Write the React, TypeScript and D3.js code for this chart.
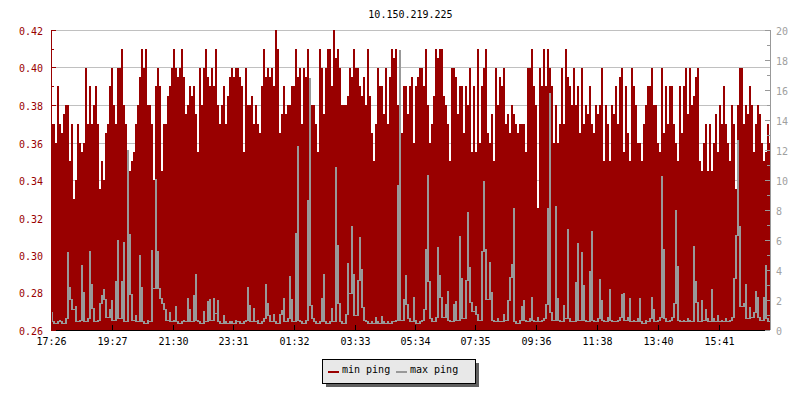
import * as d3 from "d3";

// chart data (one sample every 4 minutes)
const title = "10.150.219.225";
const seriesNames = ["min ping", "max ping"];
const seriesColors = ["#990000", "#999999"];
const startTime = "17:26";
const stepMinutes = 4;
const spanMinutes = 1438;

const timeLabels = ["17:26", "19:27", "21:30", "23:31", "01:32", "03:33", "05:34", "07:35", "09:36", "11:38", "13:40", "15:41"];
const leftTicks = [0.26, 0.28, 0.3, 0.32, 0.34, 0.36, 0.38, 0.4, 0.42];
const rightTicks = [0, 2, 4, 6, 8, 10, 12, 14, 16, 18, 20];

const minPing = [
  0.37, 0.37, 0.36, 0.39, 0.37, 0.365, 0.375, 0.38, 0.38, 0.35, 0.37, 0.33, 0.34, 0.37, 0.36, 0.355, 0.36, 0.4, 0.37, 0.39,
  0.37, 0.38, 0.39, 0.37, 0.335, 0.35, 0.34, 0.365, 0.37, 0.39, 0.4, 0.38, 0.37, 0.4, 0.4, 0.41, 0.38, 0.37, 0.345, 0.345,
  0.35, 0.355, 0.37, 0.38, 0.395, 0.41, 0.4, 0.41, 0.38, 0.38, 0.37, 0.34, 0.39, 0.4, 0.39, 0.345, 0.37, 0.37, 0.385, 0.39,
  0.4, 0.41, 0.4, 0.395, 0.4, 0.41, 0.395, 0.375, 0.38, 0.39, 0.385, 0.39, 0.375, 0.355, 0.4, 0.38, 0.4, 0.41, 0.395, 0.39,
  0.4, 0.39, 0.41, 0.38, 0.37, 0.38, 0.39, 0.37, 0.385, 0.395, 0.4, 0.395, 0.4, 0.4, 0.395, 0.39, 0.355, 0.4, 0.38, 0.38,
  0.385, 0.37, 0.38, 0.37, 0.365, 0.39, 0.41, 0.395, 0.4, 0.395, 0.4, 0.39, 0.42, 0.41, 0.365, 0.375, 0.39, 0.375, 0.38, 0.38,
  0.39, 0.39, 0.41, 0.395, 0.4, 0.37, 0.4, 0.395, 0.41, 0.38, 0.38, 0.38, 0.37, 0.355, 0.41, 0.4, 0.375, 0.4, 0.41, 0.41,
  0.39, 0.42, 0.405, 0.41, 0.4, 0.38, 0.38, 0.38, 0.385, 0.4, 0.395, 0.41, 0.4, 0.4, 0.39, 0.385, 0.395, 0.38, 0.41, 0.385,
  0.365, 0.35, 0.37, 0.4, 0.39, 0.39, 0.375, 0.4, 0.37, 0.395, 0.41, 0.405, 0.41, 0.38, 0.37, 0.365, 0.39, 0.39, 0.375, 0.39,
  0.395, 0.36, 0.39, 0.395, 0.4, 0.4, 0.39, 0.41, 0.38, 0.36, 0.37, 0.385, 0.41, 0.405, 0.41, 0.41, 0.385, 0.38, 0.37, 0.35,
  0.4, 0.4, 0.395, 0.375, 0.39, 0.39, 0.365, 0.39, 0.38, 0.4, 0.355, 0.39, 0.355, 0.41, 0.36, 0.39, 0.4, 0.41, 0.365, 0.36,
  0.375, 0.35, 0.4, 0.38, 0.395, 0.39, 0.4, 0.37, 0.375, 0.365, 0.38, 0.375, 0.37, 0.365, 0.37, 0.37, 0.37, 0.355, 0.4, 0.4,
  0.41, 0.39, 0.38, 0.325, 0.4, 0.39, 0.41, 0.39, 0.41, 0.4, 0.39, 0.36, 0.38, 0.36, 0.37, 0.4, 0.37, 0.41, 0.395, 0.39,
  0.38, 0.4, 0.38, 0.39, 0.365, 0.4, 0.37, 0.38, 0.375, 0.39, 0.37, 0.365, 0.38, 0.375, 0.38, 0.4, 0.35, 0.38, 0.37, 0.35,
  0.38, 0.375, 0.39, 0.37, 0.395, 0.4, 0.355, 0.39, 0.365, 0.35, 0.4, 0.39, 0.38, 0.36, 0.36, 0.35, 0.37, 0.38, 0.39, 0.39,
  0.4, 0.38, 0.38, 0.36, 0.355, 0.4, 0.365, 0.39, 0.37, 0.39, 0.39, 0.37, 0.36, 0.35, 0.39, 0.365, 0.39, 0.4, 0.375, 0.4,
  0.38, 0.385, 0.395, 0.4, 0.35, 0.345, 0.36, 0.37, 0.345, 0.37, 0.345, 0.36, 0.375, 0.355, 0.38, 0.37, 0.39, 0.37, 0.36, 0.35,
  0.38, 0.37, 0.335, 0.38, 0.4, 0.4, 0.37, 0.38, 0.375, 0.39, 0.38, 0.355, 0.37, 0.38, 0.375, 0.36, 0.35, 0.355, 0.37, 0.36,
];

const maxPing = [
  1.18, 0.6, 0.5, 0.6, 0.7, 0.6, 0.5, 0.8, 5.2, 2.87, 2.1, 1.4, 1.6, 0.6, 0.7, 4.33, 2.53, 0.6, 0.8, 5.27,
  3.07, 1.47, 0.6, 0.7, 1.8, 2.33, 2.73, 2.07, 0.9, 1.4, 2.0, 0.7, 3.27, 6.0, 0.8, 3.27, 5.87, 0.6, 12.0, 6.4,
  2.4, 0.7, 1.0, 0.6, 5.0, 2.87, 0.6, 0.5, 0.7, 0.6, 5.33, 2.8, 10.07, 5.27, 2.8, 2.13, 1.8, 1.4, 0.7, 1.2,
  0.6, 0.7, 1.6, 0.6, 0.5, 0.6, 0.7, 0.6, 2.13, 1.4, 0.6, 2.33, 3.73, 0.7, 0.6, 0.5, 1.27, 0.6, 1.93, 2.1,
  0.7, 2.13, 1.1, 2.0, 0.6, 0.5, 1.0, 0.6, 0.5, 0.6, 0.6, 0.5, 0.7, 0.6, 0.6, 0.5, 0.6, 0.7, 2.87, 1.67,
  0.6, 1.47, 0.6, 0.7, 0.5, 0.6, 0.8, 3.07, 1.8, 1.0, 0.6, 1.07, 0.6, 0.5, 1.07, 1.33, 2.13, 0.6, 0.8, 3.6,
  2.07, 0.6, 6.47, 12.3, 0.7, 0.6, 0.5, 0.7, 8.67, 16.8, 1.67, 0.8, 0.6, 0.5, 0.6, 2.13, 3.73, 0.6, 0.5, 0.6,
  1.47, 0.6, 10.87, 5.67, 1.8, 0.6, 0.5, 1.07, 4.47, 2.47, 6.93, 3.73, 1.0, 3.33, 6.2, 4.07, 1.53, 0.7, 0.6, 0.5,
  0.6, 0.5, 0.9, 0.6, 0.5, 0.93, 0.6, 0.5, 0.6, 0.5, 0.6, 0.6, 0.7, 9.67, 18.7, 0.7, 2.07, 3.67, 1.73, 0.8,
  0.6, 2.2, 0.7, 0.5, 0.6, 0.7, 1.4, 5.4, 10.33, 3.27, 0.8, 0.6, 0.9, 5.53, 3.67, 2.2, 0.9, 1.73, 2.6, 0.7,
  0.6, 1.73, 1.93, 0.7, 6.27, 3.47, 0.8, 3.33, 7.87, 4.2, 1.87, 1.27, 1.6, 1.07, 0.7, 5.27, 9.93, 5.4, 2.07, 4.53,
  2.53, 0.7, 0.6, 0.8, 0.6, 0.6, 1.07, 0.7, 2.0, 3.53, 4.4, 8.13, 0.6, 0.5, 0.7, 1.6, 2.0, 0.7, 0.6, 0.8,
  2.2, 0.7, 0.6, 0.9, 0.6, 0.7, 0.8, 1.73, 8.13, 15.8, 1.2, 0.7, 8.27, 2.13, 0.7, 0.6, 1.67, 0.8, 6.73, 0.8,
  0.6, 0.6, 3.2, 5.8, 0.7, 5.2, 3.0, 0.7, 0.6, 3.93, 6.6, 0.7, 0.6, 0.8, 3.4, 2.0, 0.7, 0.6, 0.9, 2.73,
  0.7, 0.6, 0.6, 0.7, 0.9, 2.4, 2.47, 0.7, 0.9, 2.13, 0.6, 0.7, 0.6, 0.8, 2.13, 0.6, 0.5, 0.7, 0.6, 0.8,
  2.2, 1.4, 0.6, 0.7, 0.9, 10.27, 5.4, 0.8, 0.6, 0.7, 0.9, 1.8, 8.0, 4.27, 0.7, 0.6, 0.7, 0.6, 0.8, 0.7,
  0.6, 5.6, 3.27, 1.87, 0.6, 2.0, 0.7, 1.4, 0.8, 0.6, 2.73, 0.8, 0.6, 1.0, 0.6, 0.7, 0.6, 0.8, 0.6, 0.7,
  0.9, 3.47, 6.33, 12.7, 6.93, 1.6, 1.8, 3.07, 0.8, 1.53, 0.9, 1.2, 2.6, 2.2, 0.9, 0.7, 2.2, 4.33, 0.8, 0.6,
];

const FONT = "'DejaVu Sans Mono', monospace";

type Pt = { t: Date; v: number; lo: number };

export default function App() {
  const width = 800;
  const height = 400;
  const plot = { left: 51, right: 770, top: 30, bottom: 330 };

  const [sh, sm] = startTime.split(":").map(Number);
  const t0 = new Date(2024, 0, 1, sh, sm);
  const tEnd = d3.timeMinute.offset(t0, spanMinutes);

  const x = d3.scaleTime().domain([t0, tEnd]).range([plot.left, plot.right]);
  const yL = d3.scaleLinear().domain([0.26, 0.42]).range([plot.bottom, plot.top]);
  const yR = d3.scaleLinear().domain([0, 20]).range([plot.bottom, plot.top]);

  // lo = lowest of the sample and its neighbours, so a 1px step line can be drawn with solid verticals
  const toPts = (arr: number[]): Pt[] => {
    const pts = arr.map((v, i) => ({
      t: d3.timeMinute.offset(t0, i * stepMinutes),
      v,
      lo: Math.min(v, arr[i - 1] ?? v, arr[i + 1] ?? v),
    }));
    const last = arr[arr.length - 1];
    pts.push({ t: tEnd, v: last, lo: last }); // close the last step
    return pts;
  };

  const minPts = toPts(minPing);
  const maxPts = toPts(maxPing);

  const area = d3
    .area<Pt>()
    .x((d) => x(d.t))
    .y0(plot.bottom)
    .y1((d) => yL(d.v))
    .curve(d3.curveStepAfter);

  const band = d3
    .area<Pt>()
    .x((d) => Math.round(x(d.t)))
    .y0((d) => Math.round(yR(d.lo)) + 1)
    .y1((d) => Math.round(yR(d.v)))
    .curve(d3.curveStepAfter);

  // minutes from the start for every time label (wraps past midnight)
  const startMin = sh * 60 + sm;
  const labelTimes = timeLabels.map((s) => {
    const [h, m] = s.split(":").map(Number);
    const off = (h * 60 + m - startMin + 1440) % 1440;
    return { label: s, t: d3.timeMinute.offset(t0, off) };
  });

  const leftMinor = yL.ticks(16).filter((v) => !leftTicks.some((t) => Math.abs(t - v) < 1e-6));
  const rightMinor = yR.ticks(20).filter((v) => !rightTicks.includes(v));

  const cx = (plot.left + plot.right) / 2;
  const legend = { x: 322.5, y: 359.5, w: 153, h: 24 };

  return (
    <svg
      width={width}
      height={height}
      style={{ position: "absolute", left: 0, top: 0, background: "#fff" }}
      fontFamily={FONT}
      fontSize={10}
    >
      <defs>
        <clipPath id="plot-clip">
          <rect x={plot.left} y={plot.top} width={plot.right - plot.left} height={plot.bottom - plot.top} />
        </clipPath>
      </defs>

      {/* title */}
      <text x={cx} y={17.5} textAnchor="middle" fill="#000">
        {title}
      </text>

      {/* horizontal grid */}
      {leftTicks.map((v) => (
        <line
          key={v}
          x1={plot.left}
          x2={plot.right}
          y1={Math.round(yL(v)) + 0.5}
          y2={Math.round(yL(v)) + 0.5}
          stroke="#c0c0c0"
          shapeRendering="crispEdges"
        />
      ))}

      {/* series */}
      <g clipPath="url(#plot-clip)">
        <path d={area(minPts) || ""} fill={seriesColors[0]} shapeRendering="crispEdges" />
        <path d={band(maxPts) || ""} fill={seriesColors[1]} shapeRendering="crispEdges" />
      </g>

      {/* x axis */}
      <line x1={plot.left} x2={plot.right} y1={plot.bottom + 0.5} y2={plot.bottom + 0.5} stroke="#000" shapeRendering="crispEdges" />
      {labelTimes.map((d) => {
        const px = Math.round(x(d.t)) + 0.5;
        return (
          <g key={d.label}>
            <line x1={px} x2={px} y1={plot.bottom - 5} y2={plot.bottom} stroke="#000" shapeRendering="crispEdges" />
            <text x={px} y={344.5} textAnchor="middle" fill="#000">
              {d.label}
            </text>
          </g>
        );
      })}

      {/* left axis */}
      <line x1={plot.left + 0.5} x2={plot.left + 0.5} y1={plot.top} y2={plot.bottom} stroke="#990000" shapeRendering="crispEdges" />
      {leftTicks.map((v) => {
        const py = Math.round(yL(v)) + 0.5;
        return (
          <g key={v}>
            <line x1={plot.left} x2={plot.left + 5} y1={py} y2={py} stroke="#990000" shapeRendering="crispEdges" />
            <text x={43} y={py + 4} textAnchor="end" fill="#990000">
              {v.toFixed(2)}
            </text>
          </g>
        );
      })}
      {leftMinor.map((v) => {
        const py = Math.round(yL(v)) + 0.5;
        return <line key={v} x1={plot.left} x2={plot.left + 3} y1={py} y2={py} stroke="#990000" shapeRendering="crispEdges" />;
      })}

      {/* right axis */}
      <line x1={plot.right + 0.5} x2={plot.right + 0.5} y1={plot.top} y2={plot.bottom} stroke="#999999" shapeRendering="crispEdges" />
      {rightTicks.map((v) => {
        const py = Math.round(yR(v)) + 0.5;
        return (
          <g key={v}>
            <line x1={plot.right - 5} x2={plot.right} y1={py} y2={py} stroke="#999999" shapeRendering="crispEdges" />
            <text x={776} y={py + 4} textAnchor="start" fill="#a0a0a0">
              {v}
            </text>
          </g>
        );
      })}
      {rightMinor.map((v) => {
        const py = Math.round(yR(v)) + 0.5;
        return <line key={v} x1={plot.right - 3} x2={plot.right} y1={py} y2={py} stroke="#999999" shapeRendering="crispEdges" />;
      })}

      {/* legend */}
      <rect x={legend.x + 3} y={legend.y + 3} width={legend.w} height={legend.h} fill="#606060" shapeRendering="crispEdges" />
      <rect x={legend.x} y={legend.y} width={legend.w} height={legend.h} fill="#e8e8e8" stroke="#000" shapeRendering="crispEdges" />
      {seriesNames.map((name, i) => {
        const lx = legend.x + 5 + i * 68;
        return (
          <g key={name}>
            <line x1={lx} x2={lx + 11} y1={372} y2={372} stroke={seriesColors[i]} strokeWidth={2} shapeRendering="crispEdges" />
            <text x={lx + 14.5} y={373} fill="#000">
              {name}
            </text>
          </g>
        );
      })}
    </svg>
  );
}
